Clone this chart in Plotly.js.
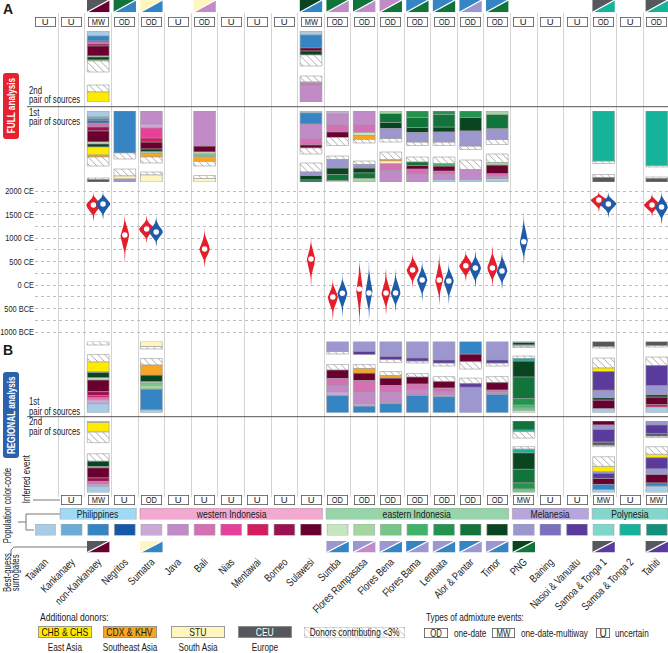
<!DOCTYPE html>
<html><head><meta charset="utf-8">
<script src="https://cdn.plot.ly/plotly-3.0.1.min.js"></script>
<style>html,body{margin:0;padding:0;background:#fff}#chart{width:668px;height:653px}</style>
</head><body><div id="chart"></div>
<script>
// ---------------- DATA ----------------
const populations = ['Taiwan','Kankanaey','non-Kankanaey','Negritos','Sumatra','Java','Bali','Nias','Mentawai','Borneo','Sulawesi','Sumba','Flores Rampasasa','Flores Bena','Flores Bama','Lembata','Alor & Pantar','Timor','PNG','Baining','Nasioi & Vanuatu','Samoa & Tonga 1','Samoa & Tonga 2','Tahiti'];
const popCodes = ['TW','KA','NK','NG','SUM','JAV','BAL','NIA','MEN','BOR','SUL','SBA','FRA','FBE','FBA','LEM','ALP','TIM','PNG','BAI','NAS','ST1','ST2','TAH'];

const regions = ['Philippines','western Indonesia','eastern Indonesia','Melanesia','Polynesia'];
const regionFirst = [1, 4, 11, 18, 21];
const regionLast = [3, 10, 17, 20, 23];

const eventsFull = ['U','U','MW','OD','OD','U','OD','U','U','U','MW','OD','OD','OD','OD','OD','OD','OD','U','U','U','OD','U','OD'];
const eventsRegional = [null,'U','MW','U','OD','U','U','U','U','U','U','OD','OD','OD','OD','OD','OD','OD','MW','U','U','MW','U','MW'];

// best-guess surrogates: [population, upper-left donor, lower-right donor]
const surrogatesFull = [
  ['non-Kankanaey','CEU','SUL'],['Negritos','ALP','NK'],['Sumatra','STU','NK'],['Bali','STU','JAV'],
  ['Sulawesi','TIM','NK'],['Sumba','ALP','JAV'],['Flores Rampasasa','ALP','JAV'],['Flores Bena','JAV','ALP'],
  ['Flores Bama','NK','ALP'],['Lembata','NK','ALP'],['Alor & Pantar','NK','PNG'],['Timor','NK','ALP'],
  ['Samoa & Tonga 1','CEU','ST2'],['Tahiti','CEU','ST2']];
const surrogatesRegional = [
  ['non-Kankanaey','CEU','SUL'],['Sumatra','STU','NK'],['Sumba','PNG','NK'],['Flores Rampasasa','PNG','JAV'],
  ['Flores Bena','PNG','NK'],['Flores Bama','NK','PNG'],['Lembata','PNG','NK'],['Alor & Pantar','NK','PNG'],
  ['Timor','PNG','NK'],['PNG','TIM','ALP'],['Samoa & Tonga 1','CEU','NAS'],['Tahiti','CEU','NAS']];

// admixture dates (years CE; negative = BCE), one value per population, null = no date
const fullMedian = [null,null,1702,1064,1191,null,766,null,null,null,553,-256,-85,-170,319,106,410,360,null,null,null,1808,null,1702];
const fullLow    = [null,null,1350,470,890,null,360,null,null,null,-60,-750,-890,-640,-60,-425,64,-40,null,null,null,1550,null,1447];
const fullHigh   = [null,null,1985,1530,1490,null,1230,null,null,null,1060,150,540,360,700,700,745,850,null,null,null,1990,null,1960];
const regMedian  = [null,null,1723,null,1127,null,null,null,null,null,null,-177,-170,-170,106,85,360,297,921,null,null,1723,null,1660];
const regLow     = [null,null,1380,null,810,null,null,null,null,null,null,-680,-745,-575,-360,-425,-60,-100,425,null,null,1425,null,1277];
const regHigh    = [null,null,2000,null,1490,null,null,null,null,null,null,250,540,360,530,490,745,745,1560,null,null,1980,null,2000];
const dateTicks  = [2000, 1500, 1000, 500, 0, -500, -1000];
const dateLabels = ['2000 CE','1500 CE','1000 CE','500 CE','0 CE','500 BCE','1000 BCE'];

// sources: [population, source-1 segments (top box), source-2 segments (bottom box)]
// each segment = [donor, share of the panel]
const fullPair2 = [
  ['non-Kankanaey', [['TW',5],['NK',5],['NG',1],['BAL',2],['BOR',2],['SUL',10],['SBA',1],['TIM',3],['FRA',1],['OTH',11]], [['OTH',7],['CHB',10]]],
  ['Sulawesi', [['TW',4],['NK',13],['SUL',3],['TIM',4],['OTH',11]], [['OTH',6],['SUM',1],['BAL',2],['JAV',17]]]
];
const fullPair1 = [
  ['non-Kankanaey', [['TW',6],['KA',2],['NK',2],['NG',2],['BAL',4],['BOR',4],['SUL',11],['SBA',2],['TIM',3],['CHB',8],['CDX',2],['OTH',9]], [['OTH',1.5],['CEU',2.5]]],
  ['Negritos', [['NK',42],['OTH',6]], [['OTH',7],['STU',3],['PNG',3]]],
  ['Sumatra', [['JAV',13],['SUM',4],['NIA',10],['MEN',4],['SUL',7],['TIM',2.5],['SBA',1.5],['CDX',4],['OTH',6]], [['OTH',3],['STU',7]]],
  ['Bali', [['JAV',35],['SUL',6],['SBA',2],['FBE',2.5],['CDX',5],['OTH',4.5]], [['OTH',3],['STU',3.5]]],
  ['Sulawesi', [['TW',2],['NK',11],['JAV',15],['BAL',6],['SUL',3],['OTH',6]], [['OTH',9],['PNG',3.5],['TIM',4.5],['ALP',2]]],
  ['Sumba', [['SUM',3],['JAV',11],['BAL',7],['SUL',5.5],['OTH',8]], [['OTH',3.5],['PNG',8.5],['TIM',6.5],['ALP',6],['SBA',1.5]]],
  ['Flores Rampasasa', [['JAV',14],['BAL',7.5],['SBA',3],['CDX',4],['OTH',3.5]], [['OTH',3.5],['PNG',3.5],['TIM',5],['ALP',5.5],['FRA',3.5]]],
  ['Flores Bena', [['FRA',2.5],['ALP',9],['TIM',6],['PNG',10],['OTH',3.5]], [['OTH',7.5],['CDX',1.5],['STU',2.5],['BAL',7],['JAV',11.5]]],
  ['Flores Bama', [['LEM',6.5],['ALP',10],['TIM',5],['PNG',9.5],['OTH',3.5]], [['OTH',5],['ALP',3.5],['SUL',3.5],['BAL',5],['JAV',8]]],
  ['Lembata', [['LEM',3.5],['ALP',12.5],['TIM',5],['PNG',10],['OTH',3.5]], [['OTH',6.5],['FBA',2.5],['SUL',5],['BAL',3],['JAV',5.5],['TW',2.5]]],
  ['Alor & Pantar', [['LEM',6.5],['TIM',13.5],['PNG',15],['OTH',3.5]], [['OTH',9.5],['JAV',10],['TW',2.5]]],
  ['Timor', [['FRA',3.5],['ALP',14],['PNG',11],['OTH',5]], [['OTH',8.5],['FRA',2.5],['SUL',8.5],['BAL',2.5],['JAV',2.5],['TW',3.5]]],
  ['Samoa & Tonga 1', [['ST2',50],['OTH',2.5]], [['OTH',3],['CEU',4.5]]],
  ['Tahiti', [['ST2',54.5],['OTH',1.5]], [['OTH',1.5],['CEU',3.5]]]
];
const regionalPair1 = [
  ['non-Kankanaey', [['OTH',3.5]], [['OTH',7.5],['CHB',9.5],['SBA',1],['TIM',5],['SBA',2.5],['SUL',11.5],['BOR',4],['MEN',2],['BAL',2],['SUM',4],['TW',9]]],
  ['Sumatra', [['STU',5],['OTH',2.5]], [['OTH',6.5],['CDX',10],['TIM',6.5],['SBA',1.5],['FBE',2.5],['FRA',3.5],['NK',20.5],['TW',3]]],
  ['Sumba', [['PNG',10],['OTH',2.5]], [['OTH',5.5],['SUL',8.5],['BAL',6.5],['JAV',6.5],['SUM',4],['NK',17]]],
  ['Flores Rampasasa', [['PNG',10],['NAS',3]], [['OTH',4],['CDX',4.5],['SUL',7.5],['BAL',11.5],['JAV',11.5],['SUM',2.5],['NK',6.5]]],
  ['Flores Bena', [['PNG',15],['NAS',3],['OTH',3]], [['OTH',4],['CDX',2.5],['SUL',7.5],['BAL',6.5],['JAV',10],['SUM',1.5],['NK',9]]],
  ['Flores Bama', [['PNG',16.5],['NAS',3],['OTH',2]], [['OTH',3.5],['SUL',7],['BAL',5.5],['JAV',5.5],['NK',17.5]]],
  ['Lembata', [['PNG',18.5],['NAS',3],['OTH',3]], [['OTH',5],['SUL',6.5],['BAL',3.5],['JAV',3.5],['TW',1.5],['NK',16]]],
  ['Alor & Pantar', [['NK',12.5],['SUL',7.5],['OTH',7.5]], [['OTH',5.5],['NAS',3.5],['PNG',25.5]]],
  ['Timor', [['PNG',18.5],['NAS',3],['OTH',3]], [['OTH',6],['SUL',7.5],['BAL',2],['JAV',2],['NK',18.5]]],
  ['PNG', [['ST2',1],['TIM',2.5],['ST1',1],['OTH',1.5]], [['OTH',2.5],['ST2',2.5],['TIM',16],['ALP',21.5],['LEM',6.5],['FBA',2.5],['FBE',2.5],['SBA',2.5]]],
  ['Samoa & Tonga 1', [['CEU',5],['OTH',1.5]], [['OTH',10],['CHB',3.5],['NAS',18.5],['PNG',7.5],['TIM',2.5],['SUL',8.5],['TW',4]]],
  ['Tahiti', [['CEU',4],['OTH',1.5]], [['OTH',8.5],['NAS',20],['PNG',9],['TIM',2.5],['SUL',7.5],['MEN',2.5],['TW',5.5]]]
];
const regionalPair2 = [
  ['non-Kankanaey', [['TW',1.5],['CHB',9.5],['OTH',10.5]], [['OTH',7.5],['TIM',5.5],['SBA',1],['SUL',10],['BOR',3.5],['BAL',2.5],['SUM',2],['TW',6.5]]],
  ['PNG', [['ALP',9],['ST2',1.5],['OTH',6.5]], [['OTH',2.5],['ST2',3.5],['TIM',16.5],['ALP',13.5],['LEM',6],['FBE',3.5]]],
  ['Samoa & Tonga 1', [['SUL',4],['PNG',4.5],['NAS',12.5],['CEU',3],['OTH',1.5]], [['OTH',9.5],['CHB',5.5],['PNG',1.5],['NAS',5],['SUL',6],['NK',5],['TW',3]]],
  ['Tahiti', [['PNG',4],['NAS',8.5],['CEU',2.5],['OTH',1.5]], [['OTH',7.5],['CHB',3.5],['NAS',11],['PNG',5.5],['SUL',8.5],['NK',3],['TW',6.5]]]
];
const extraDonors = ['CHB & CHS','CDX & KHV','STU','CEU'];
const extraRegions = ['East Asia','Southeast Asia','South Asia','Europe'];
const eventTypes = ['OD','MW','U'];
const eventNames = ['one-date','one-date-multiway','uncertain'];

// ---------------- STYLE ----------------
const colors = {
  TW:'#a9cbe3', KA:'#6badd6', NK:'#3585c4', NG:'#1458a6',
  SUM:'#cba9d6', JAV:'#c08bc6', BAL:'#d670b5', NIA:'#e7409a', MEN:'#d21d5f', BOR:'#9b1253', SUL:'#690030',
  SBA:'#c6e6c2', FRA:'#a3d79f', FBE:'#76c687', FBA:'#3fb36a', LEM:'#23944f', ALP:'#11743a', TIM:'#0a4522',
  PNG:'#9c98cf', BAI:'#7a70bf', NAS:'#5a3b9d', ST1:'#7fd6ca', ST2:'#16b39b', TAH:'#128f7d',
  CHB:'#ffeb00', CDX:'#f6a623', STU:'#fff6bf', CEU:'#55595d', OTH:'#ffffff'
};
const extraColors = ['#ffeb00','#f6a623','#fff6bf','#55595d'];
const regionColors = ['#9fd9f5','#f2a9cf','#98d4a9','#b7a6db','#84d6ca'];
const RED = '#e41e2b', BLUE = '#1f5ba8';
const FONT = '"Liberation Sans",Arial,sans-serif';
const TXT = '#1a1a1a';
const SQUEEZE = 0.78; // condensed lettering like the reference

// ---------------- GEOMETRY ----------------
const W = 668, H = 653;
const X0 = 35, COL0 = 45, COLW = 26.6;
const XR = [(X0 - COL0) / COLW, (W - COL0) / COLW];
const XD = [X0 / W, 1];
const pX = v => v / W;
const pY = v => 1 - v / H;
const dom = (t, b) => [1 - b / H, 1 - t / H];
const PANEL = 71;

const traces = [];
traces.push({x:[null], y:[null], xaxis:'x', yaxis:'y', type:'scatter', mode:'markers', hoverinfo:'skip'});

function pairBars(list, ya) {
  const groups = {};
  const add = (code, x, base, h) => {
    (groups[code] = groups[code] || {x:[], base:[], y:[]});
    groups[code].x.push(x); groups[code].base.push(base); groups[code].y.push(h);
  };
  list.forEach(([pop, s1, s2]) => {
    const c = populations.indexOf(pop);
    if (s1) { let cum = 0; s1.forEach(([d, h]) => { add(d, c, cum, h); cum += h; }); }
    if (s2) { const tot = s2.reduce((a, s) => a + s[1], 0); let cum = PANEL - tot; s2.forEach(([d, h]) => { add(d, c, cum, h); cum += h; }); }
  });
  Object.keys(groups).forEach(code => {
    const g = groups[code];
    const marker = {color: colors[code], line: {color: '#9a9a9a', width: 0.6}};
    if (code === 'OTH') marker.pattern = {shape: '\\', fgcolor: '#8c8c8c', bgcolor: '#ffffff', size: 5, solidity: 0.15};
    traces.push({type:'bar', x:g.x, y:g.y, base:g.base, width:0.82, marker, xaxis:'x2', yaxis:ya, hoverinfo:'skip'});
  });
}
pairBars(fullPair2, 'y2');
pairBars(fullPair1, 'y3');
pairBars(regionalPair1, 'y5');
pairBars(regionalPair2, 'y6');

function violin(c, m, lo, hi, color) {
  const wMax = Math.min(0.3, 170 / (hi - lo));
  const n = 40, xs = [], ys = [];
  const w = y => { const u = y >= m ? (y - m) / (hi - m) : (m - y) / (m - lo); return wMax * Math.exp(-6 * u * u); };
  const yv = [];
  for (let k = 0; k <= n; k++) yv.push(lo + (m - lo) * k / n);
  for (let k = 1; k <= n; k++) yv.push(m + (hi - m) * k / n);
  yv.forEach(y => { xs.push(c + w(y)); ys.push(y); });
  for (let k = yv.length - 1; k >= 0; k--) { xs.push(c - w(yv[k])); ys.push(yv[k]); }
  traces.push({type:'scatter', mode:'lines', x:xs, y:ys, fill:'toself', fillcolor:color, line:{width:0, color:color}, xaxis:'x2', yaxis:'y4', hoverinfo:'skip'});
}
const medX = [], medY = [];
populations.forEach((p, i) => {
  const both = fullMedian[i] != null && regMedian[i] != null;
  if (fullMedian[i] != null) { const c = i - (both ? 0.18 : 0); violin(c, fullMedian[i], fullLow[i], fullHigh[i], RED); medX.push(c); medY.push(fullMedian[i]); }
  if (regMedian[i] != null) { const c = i + (both ? 0.18 : 0); violin(c, regMedian[i], regLow[i], regHigh[i], BLUE); medX.push(c); medY.push(regMedian[i]); }
});
traces.push({type:'scatter', mode:'markers', x:medX, y:medY, marker:{color:'#ffffff', size:5.5}, xaxis:'x2', yaxis:'y4', hoverinfo:'skip'});

function surrogates(list, xa, ya) {
  const h = 0.42, groups = {}, dx = [], dy = [];
  list.forEach(([pop, ul, lr]) => {
    const c = populations.indexOf(pop);
    (groups[ul] = groups[ul] || {x:[], y:[]});
    groups[ul].x.push(c - h, c - h, c + h, c - h, null); groups[ul].y.push(0, 1, 1, 0, null);
    (groups[lr] = groups[lr] || {x:[], y:[]});
    groups[lr].x.push(c - h, c + h, c + h, c - h, null); groups[lr].y.push(0, 0, 1, 0, null);
    dx.push(c - h, c + h, null); dy.push(0, 1, null);
  });
  Object.keys(groups).forEach(code => {
    traces.push({type:'scatter', mode:'lines', x:groups[code].x, y:groups[code].y, fill:'toself', fillcolor:colors[code], line:{width:0, color:colors[code]}, xaxis:xa, yaxis:ya, hoverinfo:'skip'});
  });
  traces.push({type:'scatter', mode:'lines', x:dx, y:dy, line:{color:'#ffffff', width:1.3}, xaxis:xa, yaxis:ya, hoverinfo:'skip'});
}
surrogates(surrogatesFull, 'x2', 'y7');
surrogates(surrogatesRegional, 'x3', 'y10');

traces.push({type:'bar', x:regions.map((r, i) => (regionFirst[i] + regionLast[i]) / 2), y:regions.map(() => 1), base:0,
  width:regions.map((r, i) => regionLast[i] - regionFirst[i] + 1 - 0.14),
  marker:{color:regionColors, line:{color:'#a0a0a0', width:0.6}}, xaxis:'x2', yaxis:'y8', hoverinfo:'skip'});
traces.push({type:'bar', x:populations.map((p, i) => i), y:populations.map(() => 1), base:0, width:0.78,
  marker:{color:popCodes.map(c => colors[c]), line:{color:'#a0a0a0', width:0.6}}, xaxis:'x2', yaxis:'y9', hoverinfo:'skip'});
traces.push({type:'bar', x:[0], y:[1], base:0, width:1,
  marker:{color:'#ffffff', line:{color:'#a0a0a0', width:0.8}, pattern:{shape:'\\', fgcolor:'#9a9a9a', bgcolor:'#ffffff', size:5, solidity:0.12}},
  xaxis:'x4', yaxis:'y11', hoverinfo:'skip'});

// ---------------- ANNOTATIONS ----------------
const ann = [];
const txt = (x, y, text, o = {}) => ann.push(Object.assign({xref:'paper', yref:'paper', x:pX(x), y:pY(y), text, showarrow:false,
  font:{family:FONT, size:10, color:TXT}, xanchor:'left', yanchor:'middle'}, o));
function eventBox(x, y, t) {
  ann.push({xref:'x', yref:'paper', x, y:pY(y), text:t, showarrow:false, font:{family:FONT, size:9.5, color:TXT},
    bgcolor:'#ffffff', bordercolor:'#555555', borderwidth:0.8, borderpad:0.3, width:18.5, height:7.5, xanchor:'center', yanchor:'middle'});
}
eventsFull.forEach((e, i) => { if (e) eventBox(i, 21.8, e); });
eventsRegional.forEach((e, i) => { if (e) eventBox(i, 500, e); });
regions.forEach((r, i) => ann.push({xref:'x', yref:'paper', x:(regionFirst[i] + regionLast[i]) / 2, y:pY(513.8), text:r, showarrow:false,
  font:{family:FONT, size:11, color:TXT}, xanchor:'center', yanchor:'middle'}));

const BOLD = {family:FONT, size:14, color:TXT};
txt(1, 8.5, '<b>A</b>', {font:BOLD});
txt(1, 350, '<b>B</b>', {font:BOLD});
txt(11, 106, '<b>FULL analysis</b>', {xanchor:'center', textangle:-90, font:{family:FONT, size:10.5, color:'#ffffff'}});
txt(11, 415, '<b>REGIONAL analysis</b>', {xanchor:'center', textangle:-90, font:{family:FONT, size:10.5, color:'#ffffff'}});
txt(27, 90.7, '2nd'); txt(27, 100, 'pair of sources');
txt(27, 113, '1st'); txt(27, 121.7, 'pair of sources');
txt(27, 401, '1st'); txt(27, 411, 'pair of sources');
txt(27, 421.7, '2nd'); txt(27, 431.7, 'pair of sources');
txt(26, 479, 'Inferred event', {xanchor:'center', textangle:-90});
txt(7, 506, 'Population color-code', {xanchor:'center', textangle:-90});
txt(6.5, 573, 'Best-guess', {xanchor:'center', textangle:-90});
txt(14.5, 573, 'surrogates', {xanchor:'center', textangle:-90});

const LEG = {family:FONT, size:10.5, color:TXT};
txt(38, 617, 'Additional donors:', {font:{family:FONT, size:11, color:TXT}});
const swX = [64.5, 130, 198, 264.5];
extraDonors.forEach((d, i) => {
  txt(swX[i], 632, d, {xanchor:'center', bgcolor:extraColors[i], bordercolor:'#888888', borderwidth:0.8, borderpad:0.5, width:51, height:9,
    font:{family:FONT, size:11, color:i === 3 ? '#ffffff' : TXT}});
  txt(swX[i], 647, extraRegions[i], {xanchor:'center', font:LEG});
});
txt(354.5, 632, 'Donors contributing &lt;3%', {xanchor:'center', font:LEG});
txt(424, 617, 'Types of admixture events:', {font:LEG});
const evX = [436, 503.5, 602.5], evW = [22, 21, 12], evT = [452, 519, 613];
eventTypes.forEach((t, i) => {
  txt(evX[i], 633, t, {xanchor:'center', bgcolor:'#ffffff', bordercolor:'#555555', borderwidth:0.8, borderpad:0.3, width:evW[i], height:8, font:{family:FONT, size:10, color:TXT}});
  txt(evT[i], 633, eventNames[i], {font:LEG});
});

// ---------------- SHAPES ----------------
const line = (x0, y0, x1, y1, c = '#555555', w = 1) => ({type:'line', xref:'paper', yref:'paper', x0:pX(x0), y0:pY(y0), x1:pX(x1), y1:pY(y1), line:{color:c, width:w}});
function roundBox(x0, y0, x1, y1, r, color) {
  const P = (x, y) => `${pX(x)},${pY(y)}`;
  const path = `M ${P(x0 + r, y0)} L ${P(x1 - r, y0)} Q ${P(x1, y0)} ${P(x1, y0 + r)} L ${P(x1, y1 - r)} Q ${P(x1, y1)} ${P(x1 - r, y1)} ` +
    `L ${P(x0 + r, y1)} Q ${P(x0, y1)} ${P(x0, y1 - r)} L ${P(x0, y0 + r)} Q ${P(x0, y0)} ${P(x0 + r, y0)} Z`;
  return {type:'path', xref:'paper', yref:'paper', path, fillcolor:color, line:{width:0}};
}
const shapes = [
  roundBox(3, 73, 19, 139, 3, '#e52330'),
  roundBox(3, 372, 19, 458, 3, '#2a63ac'),
  line(27, 106.7, W, 106.7),
  line(27, 416.7, W, 416.7),
  line(33, 500, 60, 500, '#777777'),
  line(18, 522, 26, 522, '#777777'), line(26, 514, 26, 530, '#777777'),
  line(26, 514, 60, 514, '#777777'), line(26, 530, 34, 530, '#777777'),
  line(11, 556, 11, 550, '#777777'), line(11, 550, 14, 547, '#777777'), line(14, 547, 87, 547, '#777777')
];

// ---------------- LAYOUT ----------------
const hid = {visible:false, fixedrange:true};
const layout = {
  width:W, height:H, margin:{l:0, r:0, t:0, b:0}, paper_bgcolor:'#ffffff', plot_bgcolor:'rgba(0,0,0,0)',
  showlegend:false, barmode:'overlay', font:{family:FONT, color:TXT},
  xaxis:{domain:XD, range:XR, anchor:'y', tickmode:'array', tickvals:populations.slice(1).map((p, i) => i + 0.5),
    showgrid:true, gridcolor:'#d4d4d4', gridwidth:1, showticklabels:false, ticks:'', zeroline:false, showline:false},
  yaxis:Object.assign({domain:dom(13, 497), range:[0, 1], anchor:'x'}, hid),
  xaxis2:Object.assign({domain:XD, range:XR, matches:'x', anchor:'y2'}, hid),
  xaxis3:{domain:XD, range:XR, matches:'x', anchor:'y10', tickmode:'array', tickvals:populations.map((p, i) => i), ticktext:populations,
    tickangle:-45, ticks:'', showgrid:false, zeroline:false, showline:false, tickfont:{family:FONT, size:11, color:TXT}},
  xaxis4:Object.assign({domain:[304 / W, 405 / W], range:[-0.5, 0.5], anchor:'y11'}, hid),
  yaxis2:Object.assign({domain:dom(31, 102), range:[PANEL, 0], anchor:'x2'}, hid),
  yaxis3:Object.assign({domain:dom(111, 182), range:[PANEL, 0], anchor:'x2'}, hid),
  yaxis4:{domain:dom(186.3, 336.7), range:[-1100, 2100], anchor:'x2', tickmode:'array', tickvals:dateTicks, ticktext:dateLabels,
    showgrid:true, gridcolor:'#bdbdbd', griddash:'dot', gridwidth:1, ticks:'', zeroline:false, showline:false,
    tickfont:{family:FONT, size:9.5, color:TXT},
    minor:{dtick:250, tick0:0, showgrid:true, gridcolor:'#bdbdbd', griddash:'dot', gridwidth:1}},
  yaxis5:Object.assign({domain:dom(341.5, 412.7), range:[PANEL, 0], anchor:'x2'}, hid),
  yaxis6:Object.assign({domain:dom(421, 492.5), range:[PANEL, 0], anchor:'x2'}, hid),
  yaxis7:Object.assign({domain:dom(0, 12.3), range:[0, 1], anchor:'x2'}, hid),
  yaxis8:Object.assign({domain:dom(508, 519.5), range:[0, 1], anchor:'x2'}, hid),
  yaxis9:Object.assign({domain:dom(524, 535.5), range:[0, 1], anchor:'x2'}, hid),
  yaxis10:Object.assign({domain:dom(541, 552.5), range:[0, 1], anchor:'x3'}, hid),
  yaxis11:Object.assign({domain:dom(627, 637.5), range:[0, 1], anchor:'x4'}, hid),
  annotations:ann, shapes
};
Plotly.newPlot('chart', traces, layout, {staticPlot:true, displayModeBar:false}).then(gd => {
  // condense lettering (the reference uses a narrow typeface)
  const squeeze = (t, shiftLeft) => {
    const s = t.textContent || '';
    if (s.length < 2 || t.hasAttribute('textLength')) return;
    const len = t.getComputedTextLength();
    if (!len) return;
    t.setAttribute('textLength', (len * SQUEEZE).toFixed(2));
    t.setAttribute('lengthAdjust', 'spacingAndGlyphs');
    if (shiftLeft) {
      const x = parseFloat(t.getAttribute('x') || '0');
      t.setAttribute('x', (x - len * (1 - SQUEEZE) / 2).toFixed(2));
    }
  };
  gd.querySelectorAll('g.annotation').forEach(g => {
    const a = layout.annotations[+g.getAttribute('data-index')];
    const t = g.querySelector('text.annotation-text');
    if (a && t) squeeze(t, a.xanchor === 'left' && !a.textangle);
  });
  gd.querySelectorAll('text').forEach(t => squeeze(t, false));
});
</script></body></html>
